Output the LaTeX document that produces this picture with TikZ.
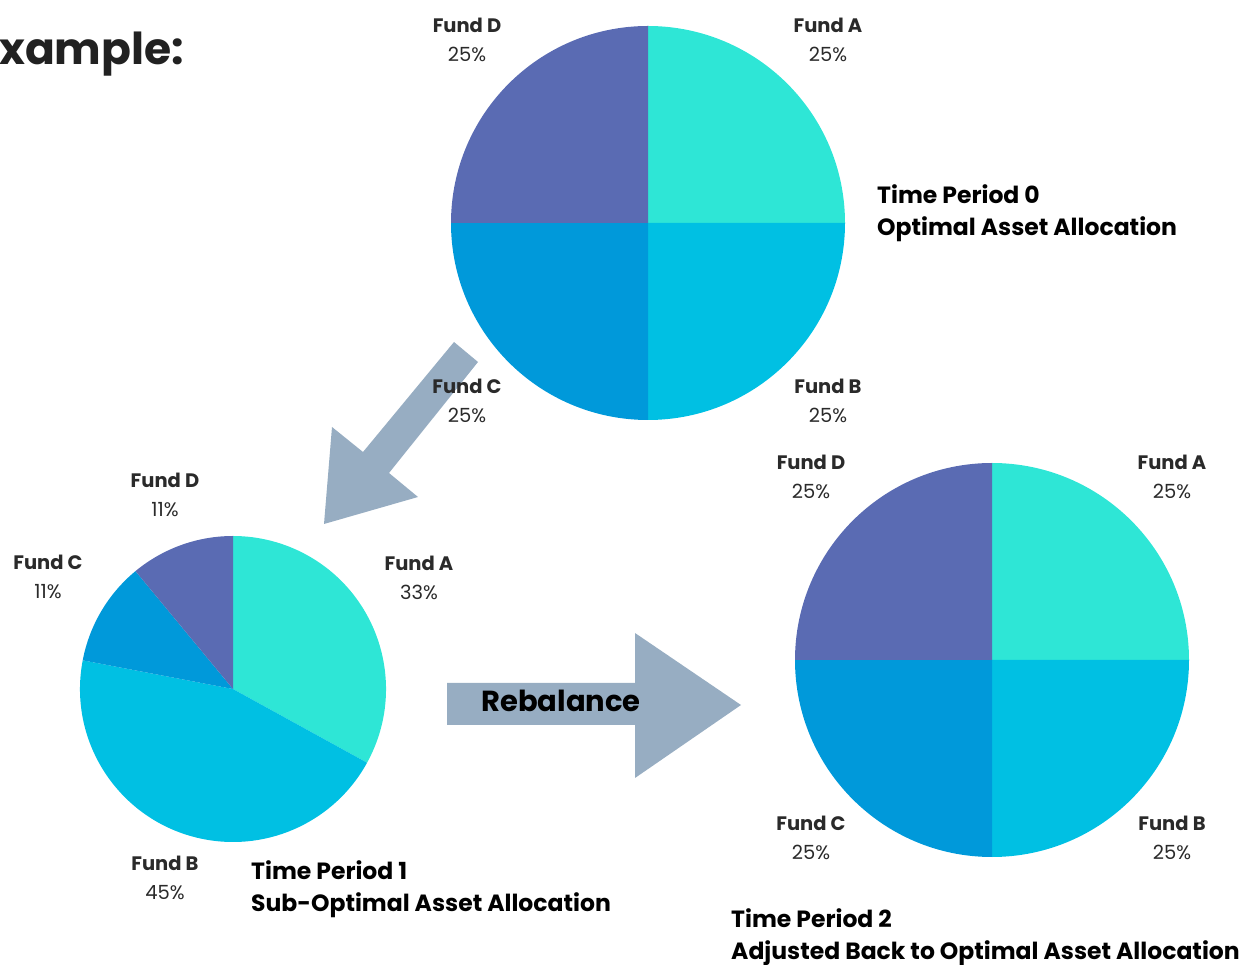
\documentclass[tikz,border=0pt]{standalone}
\usepackage{fontspec}
\setmainfont{Poppins}
\usetikzlibrary{positioning}

\definecolor{fundA}{HTML}{2EE6D6}
\definecolor{fundB}{HTML}{00C0E3}
\definecolor{fundC}{HTML}{0099DA}
\definecolor{fundD}{HTML}{5A6BB3}
\definecolor{arrowgray}{HTML}{97ADC2}
\definecolor{labelgray}{HTML}{2A2A2A}

% one slice of a pie: centre, radius, start, end, colour
\newcommand{\pieslice}[5]{\fill[#5] (#1) -- ++(#3:#2) arc[start angle=#3, end angle=#4, radius=#2] -- cycle;}

\begin{document}
\begin{tikzpicture}[x=1pt,y=1pt,
  fund/.style={align=center,text=labelgray,inner sep=0pt,font=\fontsize{19.5}{29}\selectfont},
  period/.style={align=left,anchor=north west,inner sep=0pt,font=\fontsize{23.5}{32}\selectfont\bfseries}]
\useasboundingbox (0,0) rectangle (1242,964);

\coordinate (p0) at (648,741);
\coordinate (p1) at (233,275);
\coordinate (p2) at (992,304);

% time period 0 and 2
\foreach \c in {p0,p2}{
  \pieslice{\c}{197pt}{0}{90}{fundA}
  \pieslice{\c}{197pt}{-90}{0}{fundB}
  \pieslice{\c}{197pt}{180}{270}{fundC}
  \pieslice{\c}{197pt}{90}{180}{fundD}
}
% time period 1
\pieslice{p1}{153pt}{-28.8}{90}{fundA}
\pieslice{p1}{153pt}{-190.8}{-28.8}{fundB}
\pieslice{p1}{153pt}{129.6}{169.2}{fundC}
\pieslice{p1}{153pt}{90}{129.6}{fundD}

% arrows
\fill[arrowgray] (454,622) -- (478,602) -- (389,491) -- (418,467) -- (324,440)
  -- (332,537) -- (363,512) -- cycle;
\fill[arrowgray] (447,281) -- (635,281) -- (635,331) -- (741,259) -- (635,186)
  -- (635,239) -- (447,239) -- cycle;
\node[font=\fontsize{29}{36}\selectfont\bfseries] (rebal) at (561,263) {Rebalance};

\node[anchor=west,inner sep=0pt,text=black!87,font=\fontsize{44}{54}\selectfont\bfseries] (ex) at (-1,910) {xample:};

% labels
\node[fund] (p0d) at (467,924) {\textbf{Fund D}\\25\%};
\node[fund] (p0a) at (828,924) {\textbf{Fund A}\\25\%};
\node[fund] (p0c) at (467,563) {\textbf{Fund C}\\25\%};
\node[fund] (p0b) at (828,563) {\textbf{Fund B}\\25\%};

\node[fund] (p2d) at (811,487) {\textbf{Fund D}\\25\%};
\node[fund] (p2a) at (1172,487) {\textbf{Fund A}\\25\%};
\node[fund] (p2c) at (811,126) {\textbf{Fund C}\\25\%};
\node[fund] (p2b) at (1172,126) {\textbf{Fund B}\\25\%};

\node[fund] (p1d) at (165,469) {\textbf{Fund D}\\11\%};
\node[fund] (p1c) at (48,387) {\textbf{Fund C}\\11\%};
\node[fund] (p1a) at (419,386) {\textbf{Fund A}\\33\%};
\node[fund] (p1b) at (165,86) {\textbf{Fund B}\\45\%};

% titles
\node[period] (t0) at (877,780) {Time Period 0\\Optimal Asset Allocation};
\node[period] (t1) at (251,104) {Time Period 1\\Sub-Optimal Asset Allocation};
\node[period] (t2) at (731,56) {Time Period 2\\Adjusted Back to Optimal Asset Allocation};
\end{tikzpicture}
\end{document}
